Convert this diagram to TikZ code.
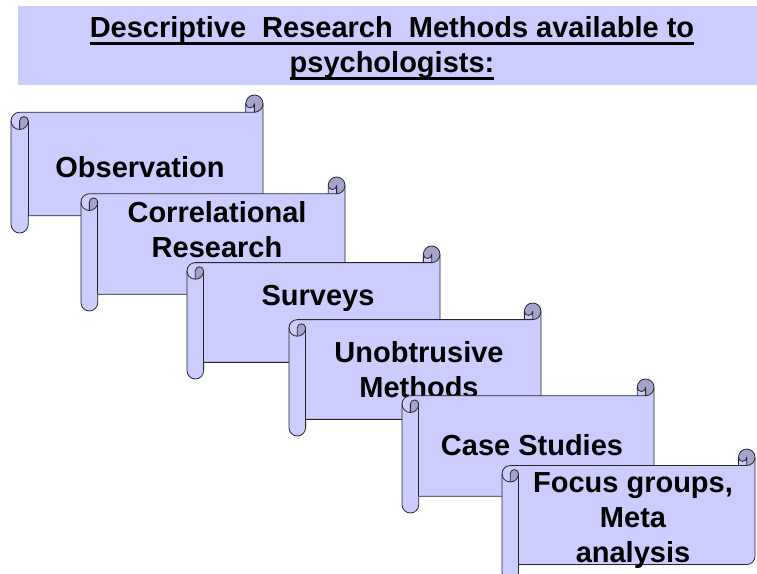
\documentclass[tikz,border=0pt]{standalone}
\usepackage{fontspec}
\setmainfont{Liberation Sans}
\usepackage{xcolor}
\definecolor{scrollblue}{HTML}{CCCCFF}
\definecolor{scrolldark}{HTML}{A3A3CC}

% underline that cuts through the descenders
\newcommand{\ulword}[1]{\setbox0\hbox{#1}\rlap{\rule[-7.5pt]{\wd0}{2.6pt}}\box0}

% horizontal scroll: left, top, right, bottom (in px)
\newcommand{\hscroll}[4]{%
  \pgfmathsetmacro\rW{#3-#1}%
  \pgfmathsetmacro\rH{#4-#2}%
  \pgfmathsetmacro\rc{0.125*min(\rW,\rH)}%
  \pgfmathsetmacro\rcb{\rc/2}%
  \pgfmathsetmacro\rcq{\rc/4}%
  \pgfmathsetmacro\rxa{\rW-\rc}%
  \pgfmathsetmacro\rxb{\rW-\rcb}%
  \pgfmathsetmacro\rya{1.5*\rc}%
  \pgfmathsetmacro\ryb{2*\rc}%
  \pgfmathsetmacro\ryc{\rH-1.5*\rc}%
  \pgfmathsetmacro\ryd{\rH-\rc}%
  \pgfmathsetmacro\rye{\rH-\rcb}%
  \begin{scope}[shift={(#1,#2)}]
    \fill[scrollblue] (\rW,\rcb) arc[start angle=0,end angle=90,radius=\rcb] -- (\rxb,\rcb)
      arc[start angle=0,end angle=180,radius=\rcq] -- (\rxa,\rc) -- (\rcb,\rc)
      arc[start angle=270,end angle=180,radius=\rcb] -- (0,\rye)
      arc[start angle=180,end angle=0,radius=\rcb] -- (\rc,\ryd) -- (\rxb,\ryd)
      arc[start angle=90,end angle=0,radius=\rcb] -- cycle;
    \fill[scrolldark] (\rcb,\ryb) arc[start angle=90,end angle=0,radius=\rcb]
      arc[start angle=0,end angle=-180,radius=\rcq] -- cycle;
    \fill[scrolldark] (\rxb,\rc) arc[start angle=90,end angle=-180,radius=\rcb]
      arc[start angle=180,end angle=0,radius=\rcq] -- cycle;
    \draw[scrollline] (0,\rya) arc[start angle=180,end angle=270,radius=\rcb] -- (\rxa,\rc) -- (\rxa,\rcb)
      arc[start angle=180,end angle=360,radius=\rcb] -- (\rW,\ryc)
      arc[start angle=0,end angle=90,radius=\rcb] -- (\rc,\ryd) -- (\rc,\rye)
      arc[start angle=0,end angle=180,radius=\rcb] -- cycle;
    \draw[scrollline] (\rxa,\rc) -- (\rxb,\rc) arc[start angle=90,end angle=0,radius=\rcb];
    \draw[scrollline] (\rxb,\rc) -- (\rxb,\rcb) arc[start angle=0,end angle=180,radius=\rcq];
    \draw[scrollline] (\rcb,\ryb) -- (\rcb,\rya) arc[start angle=180,end angle=360,radius=\rcq]
      arc[start angle=0,end angle=180,radius=\rcb];
    \draw[scrollline] (\rc,\rya) -- (\rc,\ryd);
  \end{scope}}

\begin{document}
\begin{tikzpicture}[x=1pt, y=-1pt,
    scrollline/.style={draw=black!85, line width=0.8pt, line join=round},
    label/.style={anchor=base, align=center, inner sep=0pt,
      font=\bfseries\fontsize{29}{35}\selectfont}]
    \clip (0,0) rectangle (757,573);

    % Titel
    \fill[scrollblue] (18,6) rectangle (757,85);
    \node[label] (title) at (392,72) {\ulword{Descriptive\ \ Research\ \ Methods available to}\\\ulword{psychologists:}};

    % Rollen (base = letzte Zeile)
    \hscroll{11}{95}{263}{233}
    \node[label] (obs) at (140,177) {Observation};

    \hscroll{81}{177}{345}{311}
    \node[label] (corr) at (217,257) {Correlational\\Research};

    \hscroll{187}{246}{440}{379}
    \node[label] (surv) at (318,305) {Surveys};

    \hscroll{289}{303}{541}{436}
    \node[label] (unob) at (419,397) {Unobtrusive\\Methods};

    \hscroll{402}{379}{654}{513}
    \node[label] (case) at (532,455) {Case Studies};

    \hscroll{502}{449}{755}{581}
    \node[label] (focus) at (633,562) {Focus groups,\\Meta\\analysis};
\end{tikzpicture}
\end{document}
